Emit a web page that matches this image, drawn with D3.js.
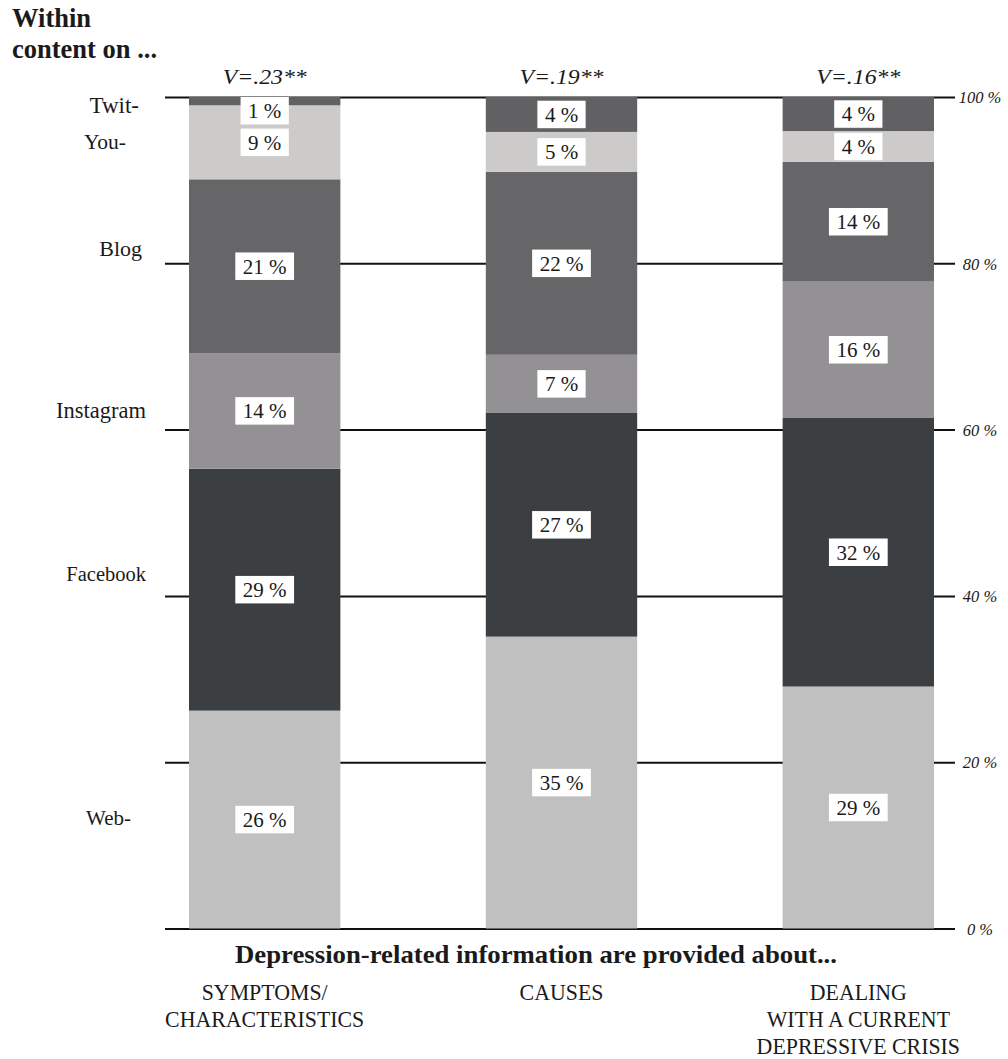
<!DOCTYPE html>
<html>
<head>
<meta charset="utf-8">
<script src="https://cdn.jsdelivr.net/npm/d3@7"></script>
<style>
  html, body { margin: 0; padding: 0; background: #fff; }
  svg { display: block; }
  text { font-family: "Liberation Serif", "Times New Roman", serif; fill: #1a1a1a; }
</style>
</head>
<body>
<svg id="chart" width="1008" height="1059"></svg>
<script>
// ---- data ----
const categories = ["SYMPTOMS/\nCHARACTERISTICS", "CAUSES", "DEALING\nWITH A CURRENT\nDEPRESSIVE CRISIS"];
const cramerV = [".23**", ".19**", ".16**"];
const platforms = ["Web", "Facebook", "Instagram", "Blog", "YouTube", "Twitter"]; // bottom → top
const platformLabels = ["Web-", "Facebook", "Instagram", "Blog", "You-", "Twit-"];
const web       = [26.2, 35.1, 29.1];
const facebook  = [29.1, 26.9, 32.3];
const instagram = [13.9, 7.0, 16.4];
const blog      = [20.9, 22.0, 14.4];
const youtube   = [8.9, 4.8, 3.7];
const twitter   = [1.0, 4.2, 4.1];
const yTicks = [0, 20, 40, 60, 80, 100];
const yTickLabels = ["0 %", "20 %", "40 %", "60 %", "80 %", "100 %"];
const titleLines = ["Within", "content on ..."];
const xTitle = "Depression-related information are provided about...";

// ---- styles / layout ----
const colors = {
  Web: "#c0c0c0", Facebook: "#3c3f42", Instagram: "#939193",
  Blog: "#666668", YouTube: "#cccbc9", Twitter: "#616163"
};
const platformLabelLayout = {
  Web:       {x: 131, y: 825, size: 21},
  Facebook:  {x: 146, y: 581, size: 20.5},
  Instagram: {x: 146, y: 418, size: 22.5},
  Blog:      {x: 142, y: 256, size: 22},
  YouTube:   {x: 126, y: 149, size: 21.5},
  Twitter:   {x: 139, y: 113, size: 23}
};

const seriesValues = [web, facebook, instagram, blog, youtube, twitter];
const table = categories.map((c, i) => {
  const row = {category: c};
  platforms.forEach((p, j) => row[p] = seriesValues[j][i]);
  return row;
});

const svg = d3.select("#chart");

const x = d3.scaleBand().domain(categories).range([189, 934]).paddingInner(0.49).paddingOuter(0);
const y = d3.scaleLinear().domain([0, 100]).range([928.5, 97]);

// gridlines + tick labels
const gridLeft = 165, gridRight = 955;
const axis = d3.axisRight(y)
  .tickValues(yTicks)
  .tickSize(gridRight - gridLeft)
  .tickFormat((d, i) => yTickLabels[i]);
const gAxis = svg.append("g").attr("transform", `translate(${gridLeft},0)`).call(axis);
gAxis.select(".domain").remove();
gAxis.selectAll(".tick line").attr("stroke", "#111").attr("stroke-width", 2);
gAxis.selectAll(".tick text")
  .attr("x", 980 - gridLeft)
  .attr("text-anchor", "middle")
  .attr("dy", "0.35em")
  .style("font-family", "'Liberation Serif', serif")
  .style("font-style", "italic")
  .style("font-size", "16.5px")
  .attr("fill", "#222");

// stacked bars
const stack = d3.stack().keys(platforms);
const stacked = stack(table);

const layers = svg.append("g").selectAll("g")
  .data(stacked)
  .join("g")
  .attr("fill", d => colors[d.key]);

layers.selectAll("rect")
  .data(d => d.map(s => ({s, key: d.key})))
  .join("rect")
  .attr("x", d => x(d.s.data.category))
  .attr("width", x.bandwidth())
  .attr("y", d => y(d.s[1]))
  .attr("height", d => y(d.s[0]) - y(d.s[1]));

// value labels
const boxH = 27.5;
const labelG = svg.append("g");
stacked.forEach(layer => {
  layer.forEach(s => {
    const val = s[1] - s[0];
    const cx = x(s.data.category) + x.bandwidth() / 2;
    const top = y(s[1]);
    let cy = (y(s[0]) + y(s[1])) / 2;
    cy = Math.max(cy, top + boxH / 2);
    const g = labelG.append("g");
    const rect = g.append("rect").attr("fill", "#fff");
    const t = g.append("text")
      .attr("x", cx).attr("y", cy)
      .attr("dy", "0.35em")
      .attr("text-anchor", "middle")
      .style("font-size", "21px")
      .text(Math.round(val) + " %");
    const w = t.node().getComputedTextLength() + 15;
    rect.attr("x", cx - w / 2).attr("y", cy - boxH / 2).attr("width", w).attr("height", boxH);
  });
});

// V statistics above bars
svg.append("g").selectAll("text")
  .data(categories)
  .join("text")
  .attr("x", d => x(d) + x.bandwidth() / 2)
  .attr("y", 84)
  .attr("text-anchor", "middle")
  .style("font-style", "italic")
  .style("font-size", "22px")
  .attr("textLength", 84)
  .attr("lengthAdjust", "spacingAndGlyphs")
  .text((d, i) => "V=" + cramerV[i]);

// platform labels on the left
svg.append("g").selectAll("text")
  .data(platforms)
  .join("text")
  .attr("x", d => platformLabelLayout[d].x)
  .attr("y", d => platformLabelLayout[d].y)
  .attr("text-anchor", "end")
  .style("font-size", d => platformLabelLayout[d].size + "px")
  .text((d, i) => platformLabels[i]);

// title top-left
svg.append("g").selectAll("text")
  .data(titleLines)
  .join("text")
  .attr("x", 12)
  .attr("y", (d, i) => 27 + i * 31)
  .style("font-weight", "bold")
  .style("font-size", "26.5px")
  .text(d => d);

// x title
svg.append("text")
  .attr("x", 536).attr("y", 963)
  .attr("text-anchor", "middle")
  .style("font-weight", "bold")
  .style("font-size", "26px")
  .attr("textLength", 602)
  .attr("lengthAdjust", "spacingAndGlyphs")
  .text(xTitle);

// category labels
categories.forEach(c => {
  const lines = c.split("\n");
  lines.forEach((ln, k) => {
    const t = svg.append("text")
      .attr("x", x(c) + x.bandwidth() / 2)
      .attr("y", 1000 + k * 27)
      .attr("text-anchor", "middle")
      .style("font-size", "23.5px")
      .text(ln);
    const w = t.node().getComputedTextLength();
    t.attr("textLength", w * 0.93).attr("lengthAdjust", "spacingAndGlyphs");
  });
});
</script>
</body>
</html>
